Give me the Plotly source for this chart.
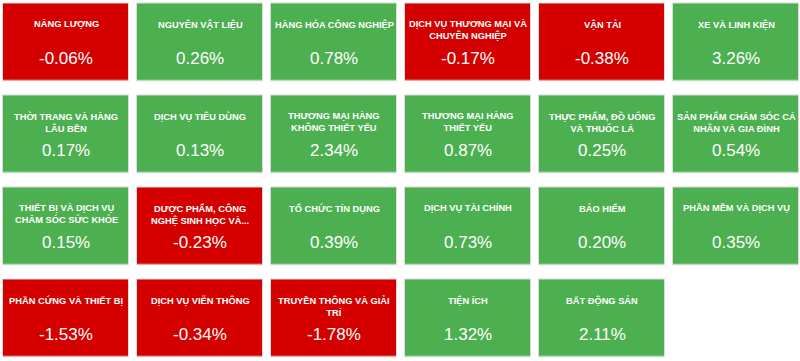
import plotly.graph_objects as go

sectors = [
    "NĂNG LƯỢNG", "NGUYÊN VẬT LIỆU", "HÀNG HÓA CÔNG NGHIỆP",
    "DỊCH VỤ THƯƠNG MẠI VÀ<br>CHUYÊN NGHIỆP", "VẬN TẢI", "XE VÀ LINH KIỆN",
    "THỜI TRANG VÀ HÀNG<br>LÂU BỀN", "DỊCH VỤ TIÊU DÙNG", "THƯƠNG MẠI HÀNG<br>KHÔNG THIẾT YẾU",
    "THƯƠNG MẠI HÀNG<br>THIẾT YẾU", "THỰC PHẨM, ĐỒ UỐNG<br>VÀ THUỐC LÁ", "SẢN PHẨM CHĂM SÓC CÁ<br>NHÂN VÀ GIA ĐÌNH",
    "THIẾT BỊ VÀ DỊCH VỤ<br>CHĂM SÓC SỨC KHỎE", "DƯỢC PHẨM, CÔNG<br>NGHỆ SINH HỌC VÀ...", "TỔ CHỨC TÍN DỤNG",
    "DỊCH VỤ TÀI CHÍNH", "BẢO HIỂM", "PHẦN MỀM VÀ DỊCH VỤ",
    "PHẦN CỨNG VÀ THIẾT BỊ", "DỊCH VỤ VIỄN THÔNG", "TRUYỀN THÔNG VÀ GIẢI<br>TRÍ",
    "TIỆN ÍCH", "BẤT ĐỘNG SẢN",
]
changes = [
    -0.06, 0.26, 0.78, -0.17, -0.38, 3.26,
    0.17, 0.13, 2.34, 0.87, 0.25, 0.54,
    0.15, -0.23, 0.39, 0.73, 0.20, 0.35,
    -1.53, -0.34, -1.78, 1.32, 2.11,
]

NCOLS = 6
NROWS = 4
RED = "#d40000"
GREEN = "#4caf50"

z = [[None] * NCOLS for _ in range(NROWS)]
for i, v in enumerate(changes):
    z[i // NCOLS][i % NCOLS] = v
zmax = max(abs(v) for v in changes)

fig = go.Figure()
# faint outline under tiles
fig.add_trace(go.Heatmap(
    z=z, x=list(range(NCOLS)), y=list(range(NROWS)),
    colorscale=[[0, "#dcdcdc"], [1, "#dcdcdc"]], showscale=False,
    xgap=7, ygap=13.5, hoverinfo="skip",
))
fig.add_trace(go.Heatmap(
    z=z, x=list(range(NCOLS)), y=list(range(NROWS)),
    zmin=-zmax, zmax=zmax,
    colorscale=[[0, RED], [0.5, RED], [0.5, GREEN], [1, GREEN]],
    showscale=False, xgap=9, ygap=15.5, hoverinfo="skip",
))

PX_X = 134.0
PX_Y = 92.0
for i, (name, v) in enumerate(zip(sectors, changes)):
    r, c = i // NCOLS, i % NCOLS
    fig.add_annotation(
        x=c, y=r - 0.5 + 20.0 / PX_Y, xref="x", yref="y",
        text="<b>" + name + "</b>", showarrow=False,
        xanchor="center", yanchor="top", align="center",
        font=dict(family="Arial, Liberation Sans, sans-serif", size=9.3, color="white"),
    )
    fig.add_annotation(
        x=c, y=r - 0.5 + 61.5 / PX_Y, xref="x", yref="y",
        text=f"{v:.2f}%", showarrow=False,
        xanchor="center", yanchor="middle",
        font=dict(family="Arial, Liberation Sans, sans-serif", size=17, color="white"),
    )

x0 = -0.5 + 1.0 / PX_X
y0 = -0.5 + 3.5 / PX_Y
fig.update_layout(
    width=800, height=361,
    margin=dict(l=0, r=0, t=0, b=0),
    paper_bgcolor="white", plot_bgcolor="white",
    xaxis=dict(range=[x0, x0 + 800 / PX_X], visible=False, fixedrange=True),
    yaxis=dict(range=[y0 + 361 / PX_Y, y0], visible=False, fixedrange=True),
    showlegend=False,
)
fig.write_html(
    "out.html",
    config={"displayModeBar": False},
    post_script="document.body.style.margin='0px';",
)
